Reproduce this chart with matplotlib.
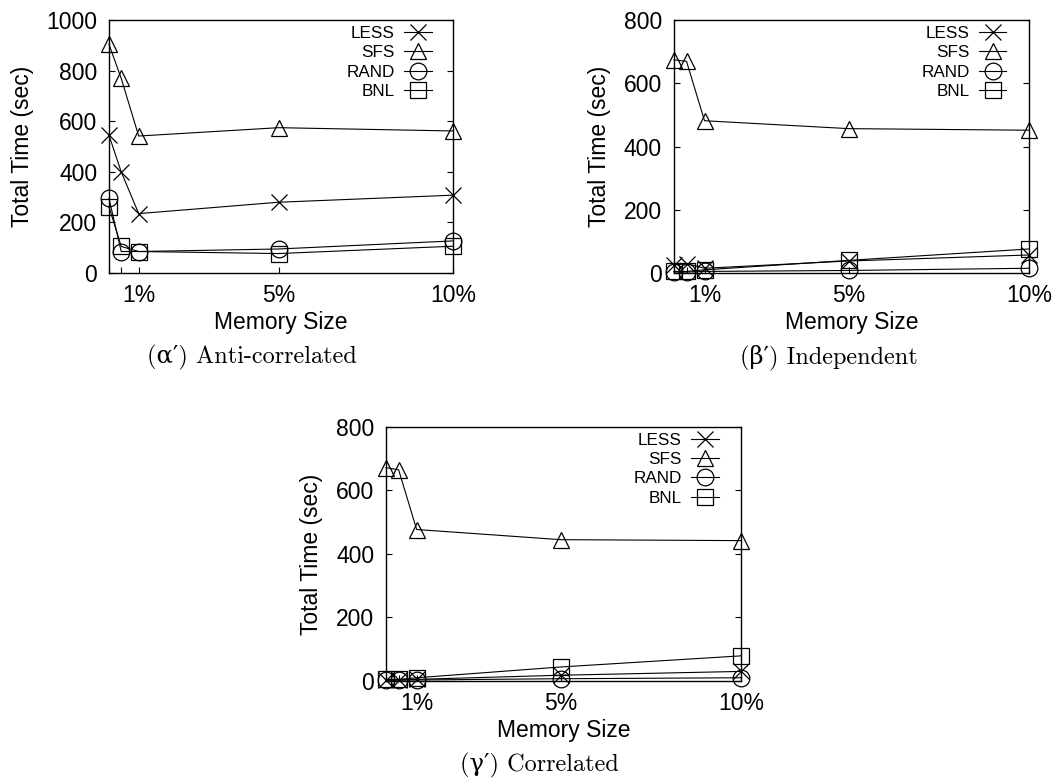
import matplotlib
matplotlib.use('Agg')
import matplotlib.pyplot as plt

plt.rcParams.update({
    'font.family': ['Liberation Sans', 'DejaVu Sans'],
    'font.size': 16.5,
    'axes.linewidth': 1.0,
    'xtick.direction': 'in',
    'ytick.direction': 'in',
    'xtick.major.size': 4,
    'ytick.major.size': 4,
    'xtick.major.width': 0.8,
    'ytick.major.width': 0.8,
    'ytick.right': True,
})

# memory size (% of data) for each run
memory = [0.15, 0.5, 1, 5, 10]
xtick_labels = ['', '', '1%', '5%', '10%']

# total time (sec) per panel
anti_less = [545, 400, 235, 280, 308]
anti_sfs = [905, 770, 542, 575, 562]
anti_rand = [295, 85, 85, 95, 127]
anti_bnl = [262, 105, 85, 77, 106]

ind_less = [25, 30, 15, 38, 57]
ind_sfs = [675, 670, 482, 457, 452]
ind_rand = [3, 3, 5, 8, 15]
ind_bnl = [5, 5, 10, 40, 76]

cor_less = [4, 4, 5, 18, 30]
cor_sfs = [672, 665, 477, 445, 442]
cor_rand = [2, 2, 3, 7, 10]
cor_bnl = [5, 5, 10, 44, 79]

names = ['LESS', 'SFS', 'RAND', 'BNL']
markers = ['x', '^', 'o', 's']

panels = [
    # (axes rect, y max, y ticks, series, caption, caption position)
    ([0.1035, 0.650, 0.327, 0.324], 1000, [0, 200, 400, 600, 800, 1000],
     [anti_less, anti_sfs, anti_rand, anti_bnl],
     '(\u03b1\u2032) Anti-correlated', (0.239, 0.542)),
    ([0.640, 0.650, 0.337, 0.324], 800, [0, 200, 400, 600, 800],
     [ind_less, ind_sfs, ind_rand, ind_bnl],
     '(\u03b2\u2032) Independent', (0.787, 0.542)),
    ([0.3666, 0.127, 0.337, 0.3256], 800, [0, 200, 400, 600, 800],
     [cor_less, cor_sfs, cor_rand, cor_bnl],
     '(\u03b3\u2032) Correlated', (0.512, 0.019)),
]

fig = plt.figure(figsize=(10.53, 7.80), dpi=100)

for rect, ymax, yticks, series, caption, cap_pos in panels:
    ax = fig.add_axes(rect)
    for vals, name, m in zip(series, names, markers):
        ax.plot(memory, vals, color='black', linewidth=0.8, marker=m,
                markersize=12, markerfacecolor='none', markeredgecolor='black',
                markeredgewidth=0.9, label=name, clip_on=False)
    ax.set_xlim(memory[0], memory[-1])
    ax.set_ylim(0, ymax)
    ax.set_xticks(memory)
    ax.set_xticklabels(xtick_labels)
    ax.set_yticks(yticks)
    ax.tick_params(axis='x', pad=8)
    ax.tick_params(axis='y', pad=8.5)
    ax.set_xlabel('Memory Size', labelpad=3)
    ax.set_ylabel('Total Time (sec)', labelpad=9)
    ax.legend(loc='upper right', bbox_to_anchor=(0.937, 0.978), frameon=False,
              markerfirst=False, fontsize=12.3, handlelength=1.6,
              handletextpad=0.55, labelspacing=0.26, borderpad=0,
              borderaxespad=0)
    fig.text(cap_pos[0], cap_pos[1], caption, ha='center', va='center',
             fontsize=17.5, family=['cmr10', 'DejaVu Serif'])

fig.savefig('out.png', dpi=100)
